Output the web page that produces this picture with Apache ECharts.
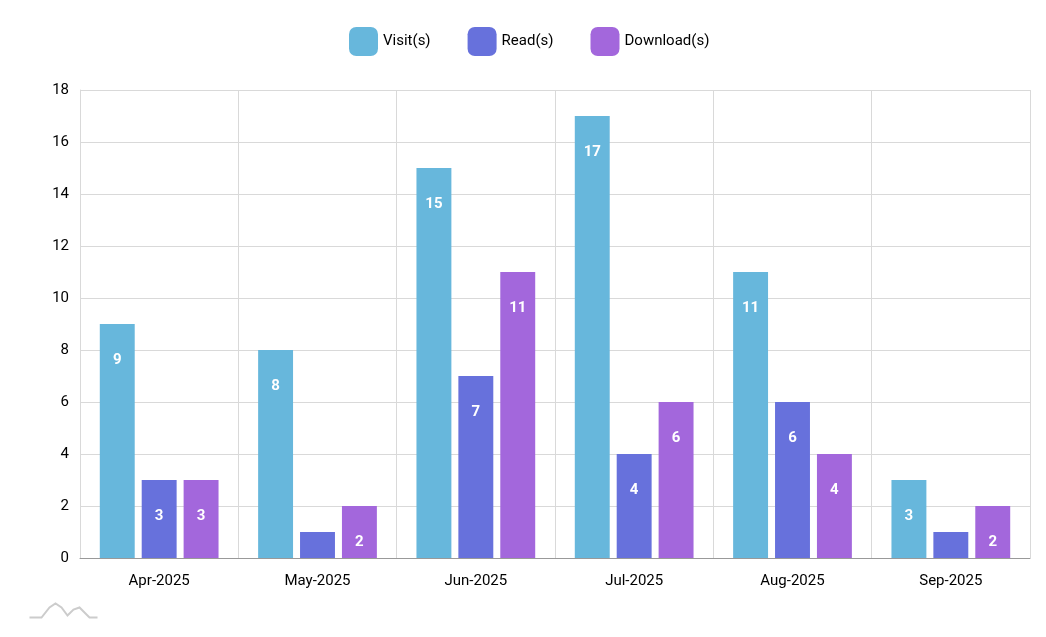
<!DOCTYPE html>
<html><head><meta charset="utf-8">
<script src="https://cdn.jsdelivr.net/npm/echarts@6/dist/echarts.min.js"></script>
<style>html,body{margin:0;padding:0;background:#fff}#c{width:1046px;height:637px}</style>
</head><body><div id="c"></div>
<script>
const categories = ['Apr-2025','May-2025','Jun-2025','Jul-2025','Aug-2025','Sep-2025'];
const visits = [9, 8, 15, 17, 11, 3];
const reads = [3, 1, 7, 4, 6, 1];
const downloads = [3, 2, 11, 6, 4, 2];
const seriesNames = ['Visit(s)','Read(s)','Download(s)'];
const colors = ['#67b7dc','#6771dc','#a367dc'];
const FONT = 'Roboto, sans-serif';

const chart = echarts.init(document.getElementById('c'));
const lbl = {
  show: true, position: 'insideTop', distance: 29, color: '#fff',
  fontFamily: FONT, fontSize: 15, fontWeight: 'bold',
  formatter: p => p.value >= 2 ? String(p.value) : ''
};
function mk(name, data, color){
  return { name, type: 'bar', data, barGap: '20%', barCategoryGap: '25%',
    itemStyle: { color },
    label: lbl };
}
chart.setOption({
  animation: false,
  textStyle: { fontFamily: FONT },
  legend: {
    top: 22, left: 344, itemWidth: 29, itemHeight: 29, itemGap: 37,
    icon: 'roundRect',
    textStyle: { fontSize: 15, color: '#000', fontFamily: FONT },
    data: seriesNames
  },
  grid: { left: 80, right: 16, top: 90, bottom: 79 },
  xAxis: {
    type: 'category', data: categories,
    axisLine: { lineStyle: { color: '#999' } },
    axisTick: { show: false },
    axisLabel: { color: '#000', fontSize: 15, margin: 16 },
    splitLine: { show: true, lineStyle: { color: '#d9d9d9' } }
  },
  yAxis: {
    type: 'value', min: 0, max: 18, interval: 2,
    axisLine: { show: true, lineStyle: { color: '#d9d9d9' } },
    axisLabel: { color: '#000', fontSize: 15, margin: 11 },
    splitLine: { lineStyle: { color: '#d9d9d9' } }
  },
  graphic: [{
    type: 'polyline', left: 27, top: 601,
    shape: { points: [[0,16],[12,16],[20,6],[26,2],[32,6],[38,14],[44,8],[50,6],[56,12],[60,16],[68,16]] },
    style: { stroke: '#ccc', lineWidth: 2, fill: null }
  }],
  series: [mk(seriesNames[0], visits, colors[0]), mk(seriesNames[1], reads, colors[1]), mk(seriesNames[2], downloads, colors[2])]
});
</script></body></html>
